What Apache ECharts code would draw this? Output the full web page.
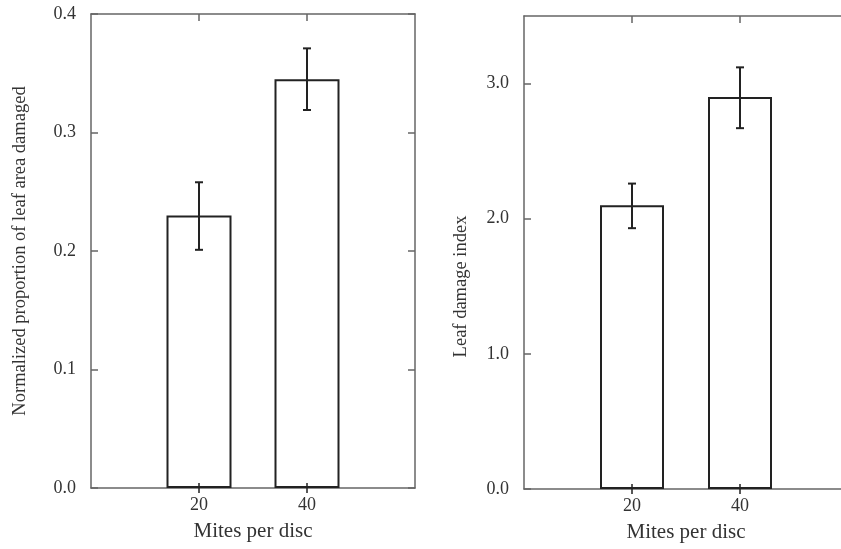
<!DOCTYPE html>
<html>
<head>
<meta charset="utf-8">
<script src="https://cdn.jsdelivr.net/npm/echarts@6/dist/echarts.min.js"></script>
<style>html,body{margin:0;padding:0;background:#fff;}#c{width:841px;height:549px;}</style>
</head>
<body>
<div id="c"></div>
<script>
// ---- data ----
const mites = [20, 40];
const propMean = [0.23, 0.345];
const propLow = [0.201, 0.319];
const propHigh = [0.258, 0.371];
const indexMean = [2.1, 2.9];
const indexLow = [1.93, 2.67];
const indexHigh = [2.26, 3.12];
const xTicks = [20, 40];
const leftYTicks = [0, 0.1, 0.2, 0.3, 0.4];
const rightYTicks = [0, 1, 2, 3];

const FONT = 'Liberation Serif';
const TXT = '#333';
const AX = '#666';
const INK = '#222';

function xAxes(gi) {
  return [
    {
      type: 'value', gridIndex: gi, position: 'bottom', min: 0, max: 60, interval: 20,
      name: 'Mites per disc', nameLocation: 'middle', nameGap: 33,
      nameTextStyle: {fontFamily: FONT, fontSize: 21, color: TXT},
      axisLine: {show: true, onZero: false, lineStyle: {color: AX, width: 1.5}},
      axisTick: {show: true, inside: false, length: 5, customValues: xTicks, lineStyle: {color: INK, width: 1.5}},
      axisLabel: {customValues: xTicks, fontFamily: FONT, fontSize: 18, color: TXT, margin: 8},
      splitLine: {show: false}
    },
    {
      type: 'value', gridIndex: gi, position: 'bottom', min: 0, max: 60, interval: 20, z: 10,
      axisLine: {show: false, onZero: false},
      axisTick: {show: true, inside: true, length: 5, customValues: xTicks, lineStyle: {color: INK, width: 1.5}},
      axisLabel: {show: false},
      splitLine: {show: false}
    },
    {
      type: 'value', gridIndex: gi, position: 'top', min: 0, max: 60, interval: 20,
      axisLine: {show: true, onZero: false, lineStyle: {color: AX, width: 1.5}},
      axisTick: {show: true, inside: true, length: 7, customValues: xTicks, lineStyle: {color: AX, width: 1.5}},
      axisLabel: {show: false},
      splitLine: {show: false}
    }
  ];
}

function yAxes(gi, max, interval, ticks, name, namePad, nameGap) {
  return [
    {
      type: 'value', gridIndex: gi, position: 'left', min: 0, max: max, interval: interval,
      name: name, nameLocation: 'middle', nameGap: nameGap,
      nameTextStyle: {fontFamily: FONT, fontSize: 18.5, color: TXT, padding: namePad},
      axisLine: {show: true, onZero: false, lineStyle: {color: AX, width: 1.5}},
      axisTick: {show: true, inside: true, length: 7, customValues: ticks, lineStyle: {color: AX, width: 1.5}},
      axisLabel: {customValues: ticks, fontFamily: FONT, fontSize: 18, color: TXT, margin: 15,
        formatter: v => v.toFixed(1)},
      splitLine: {show: false}
    },
    {
      type: 'value', gridIndex: gi, position: 'right', min: 0, max: max, interval: interval,
      axisLine: {show: true, onZero: false, lineStyle: {color: AX, width: 1.5}},
      axisTick: {show: true, inside: true, length: 7, customValues: ticks, lineStyle: {color: AX, width: 1.5}},
      axisLabel: {show: false},
      splitLine: {show: false}
    }
  ];
}

function errRender(params, api) {
  const x = api.value(0);
  const lo = api.coord([x, api.value(1)]);
  const hi = api.coord([x, api.value(2)]);
  const cap = 4;
  const st = {stroke: INK, lineWidth: 2};
  return {
    type: 'group',
    children: [
      {type: 'line', shape: {x1: lo[0], y1: lo[1], x2: hi[0], y2: hi[1]}, style: st},
      {type: 'line', shape: {x1: hi[0] - cap, y1: hi[1], x2: hi[0] + cap, y2: hi[1]}, style: st},
      {type: 'line', shape: {x1: lo[0] - cap, y1: lo[1], x2: lo[0] + cap, y2: lo[1]}, style: st}
    ]
  };
}

const option = {
  backgroundColor: '#fff',
  animation: false,
  grid: [
    {left: 91, top: 14, width: 324, height: 474, outerBoundsMode: 'none', containLabel: false},
    {left: 524, top: 16, width: 324, height: 473, outerBoundsMode: 'none', containLabel: false}
  ],
  xAxis: [...xAxes(0), ...xAxes(1)],
  yAxis: [
    ...yAxes(0, 0.4, 0.1, leftYTicks, 'Normalized proportion of leaf area damaged', [0, 0, 0, 0], 61),
    ...yAxes(1, 3.5, 1, rightYTicks, 'Leaf damage index', [0, 68, 0, 0], 53)
  ],
  series: [
    {
      type: 'bar', xAxisIndex: 0, yAxisIndex: 0, barWidth: 65,
      data: mites.map((m, i) => [m, propMean[i]]),
      itemStyle: {color: '#fff', borderColor: INK, borderWidth: 2}
    },
    {
      type: 'custom', xAxisIndex: 0, yAxisIndex: 0, renderItem: errRender,
      data: mites.map((m, i) => [m, propLow[i], propHigh[i]]), z: 5
    },
    {
      type: 'bar', xAxisIndex: 3, yAxisIndex: 2, barWidth: 64,
      data: mites.map((m, i) => [m, indexMean[i]]),
      itemStyle: {color: '#fff', borderColor: INK, borderWidth: 2}
    },
    {
      type: 'custom', xAxisIndex: 3, yAxisIndex: 2, renderItem: errRender,
      data: mites.map((m, i) => [m, indexLow[i], indexHigh[i]]), z: 5
    }
  ]
};
const chart = echarts.init(document.getElementById('c'), null, {renderer: 'canvas'});
chart.setOption(option);
</script>
</body>
</html>
